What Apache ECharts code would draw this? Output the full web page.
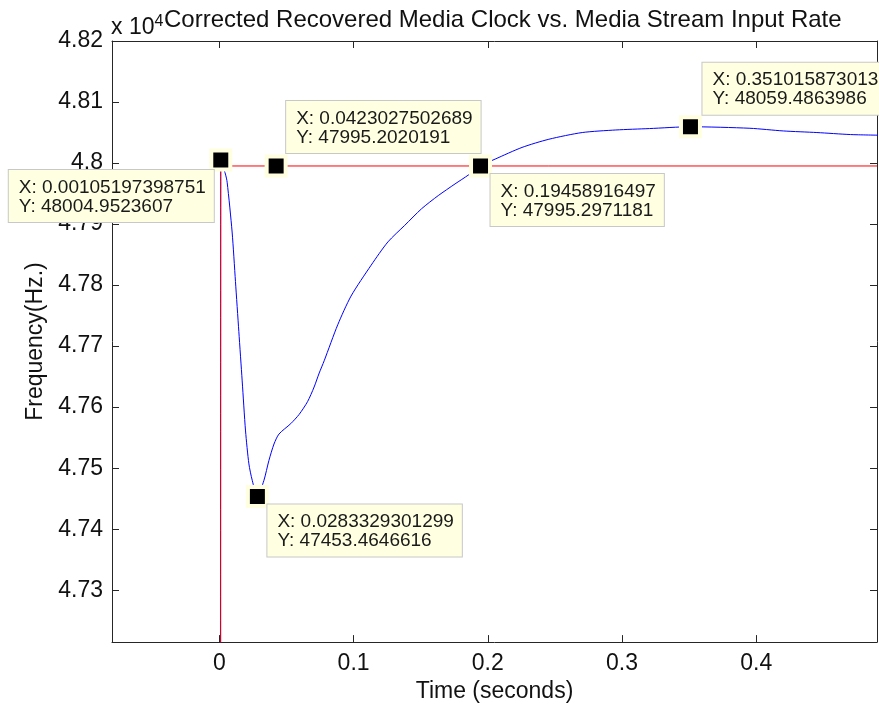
<!DOCTYPE html>
<html>
<head>
<meta charset="utf-8">
<script src="https://cdn.jsdelivr.net/npm/echarts@6/dist/echarts.min.js"></script>
<style>
html,body{margin:0;padding:0;background:#fff;}
#chart{width:879px;height:708px;}
</style>
</head>
<body>
<div id="chart"></div>
<script>
// ---- data ----
const titleText = 'Corrected Recovered Media Clock vs. Media Stream Input Rate';
const xAxisName = 'Time (seconds)';
const yAxisName = 'Frequency(Hz.)';
const xTickValues = [0, 0.1, 0.2, 0.3, 0.4];
const xTickLabels = ['0', '0.1', '0.2', '0.3', '0.4'];
const yTickValues = [47300, 47400, 47500, 47600, 47700, 47800, 47900, 48000, 48100, 48200];
const yTickLabels = ['4.73', '4.74', '4.75', '4.76', '4.77', '4.78', '4.79', '4.8', '4.81', '4.82'];

// Recovered media clock (blue)
const clockTime = [0, 0.00105197398751, 0.0045, 0.0058, 0.0095, 0.012, 0.0145, 0.017, 0.0195, 0.022, 0.0245,
  0.0283329301299, 0.0332, 0.0369, 0.0407, 0.0444, 0.0532, 0.0594, 0.0657, 0.0706, 0.0744, 0.0781,
  0.0882, 0.0981, 0.1131, 0.1256, 0.1381, 0.1506, 0.1631, 0.1756, 0.1856, 0.19458916497,
  0.2055, 0.2255, 0.2455, 0.2704, 0.2954, 0.3204, 0.351015873013, 0.3953, 0.4202, 0.4452, 0.4702, 0.4927];
const clockFreq = [0, 48004.9523607, 47982, 47968.6, 47887, 47805.7, 47724, 47643, 47561, 47507, 47480,
  47453.4646616, 47480, 47512.5, 47539.6, 47555.9, 47573, 47588, 47609, 47633, 47656, 47676,
  47735, 47782, 47832.7, 47870.8, 47897.9, 47925, 47946.7, 47965.8, 47980.5, 47995.2971181,
  48006.5, 48025.6, 48039, 48050, 48054.2, 48056.5, 48059.4863986, 48057, 48052.6, 48050, 48046.7, 48045.6];

// Media stream input rate (red step)
const inputTime = [0.001, 0.001, 0.49];
const inputFreq = [0, 47995.2020191, 47995.2020191];

// Data tips
const tipX = ['0.00105197398751', '0.0423027502689', '0.19458916497', '0.0283329301299', '0.351015873013'];
const tipY = ['48004.9523607', '47995.2020191', '47995.2971181', '47453.4646616', '48059.4863986'];

// ---- styles ----
const tipOffsets = [[-212, 10], [10, -65], [10, 8], [10, 8], [12, -64]];
const FONT = '"Liberation Sans", Arial, sans-serif';
const axisColor = '#262626';

const clockData = clockTime.map((t, i) => [t, clockFreq[i]]);
const inputData = inputTime.map((t, i) => [t, inputFreq[i]]);
const tipData = tipX.map((x, i) => ({
  value: [parseFloat(x), parseFloat(tipY[i])],
  label: { offset: tipOffsets[i] }
}));

const chart = echarts.init(document.getElementById('chart'), null, { renderer: 'canvas' });

const xBase = {
  type: 'value', min: -0.08, max: 0.49,
  axisLine: { show: true, onZero: false, lineStyle: { color: axisColor, width: 1 } },
  axisTick: { show: true, inside: true, length: 7, customValues: xTickValues, lineStyle: { color: axisColor } },
  splitLine: { show: false }
};
const yBase = {
  type: 'value', min: 47215, max: 48200,
  axisLine: { show: true, onZero: false, lineStyle: { color: axisColor, width: 1 } },
  axisTick: { show: true, inside: true, length: 7, customValues: yTickValues, lineStyle: { color: axisColor } },
  splitLine: { show: false }
};

chart.setOption({
  animation: false,
  backgroundColor: '#ffffff',
  title: [
    {
      text: 'x 10{s|4}', left: 106, top: 9,
      textStyle: { fontFamily: FONT, fontSize: 23, fontWeight: 'normal', color: '#111',
        rich: { s: { fontFamily: FONT, fontSize: 16, color: '#111', verticalAlign: 'top', padding: [0, 0, 12, 0] } } }
    },
    {
      text: titleText, left: 159, top: 3,
      textStyle: { fontFamily: FONT, fontSize: 24, fontWeight: 'normal', color: '#111' }
    }
  ],
  grid: { left: 112, right: 2, top: 41, bottom: 62, containLabel: false },
  xAxis: [
    Object.assign({}, xBase, {
      position: 'bottom',
      name: xAxisName, nameLocation: 'middle', nameGap: 35,
      nameTextStyle: { fontFamily: FONT, fontSize: 23, color: '#111' },
      axisLabel: { show: true, customValues: xTickValues, margin: 10, fontFamily: FONT, fontSize: 23, color: '#111',
        formatter: v => xTickLabels[xTickValues.indexOf(v)] }
    }),
    Object.assign({}, xBase, { position: 'top', axisLabel: { show: false } })
  ],
  yAxis: [
    Object.assign({}, yBase, {
      position: 'left',
      name: yAxisName, nameLocation: 'middle', nameGap: 65, nameRotate: 90,
      nameTextStyle: { fontFamily: FONT, fontSize: 23, color: '#111' },
      axisLabel: { show: true, customValues: yTickValues, margin: 9, fontFamily: FONT, fontSize: 23, color: '#111',
        formatter: v => yTickLabels[yTickValues.indexOf(v)] }
    }),
    Object.assign({}, yBase, { position: 'right', axisLabel: { show: false } })
  ],
  series: [
    {
      type: 'line', name: 'clock', data: clockData, xAxisIndex: 0, yAxisIndex: 0,
      showSymbol: false, symbol: 'none', smooth: 0.25,
      lineStyle: { color: '#0000ff', width: 1 }, z: 2
    },
    {
      type: 'line', name: 'input', data: inputData, xAxisIndex: 0, yAxisIndex: 0,
      showSymbol: false, symbol: 'none',
      lineStyle: { color: '#ff0000', width: 1 }, z: 3
    },
    {
      type: 'scatter', name: 'tips', data: tipData, xAxisIndex: 0, yAxisIndex: 0,
      symbol: 'rect', symbolSize: 19,
      itemStyle: { color: '#000000', borderColor: '#ffffe0', borderWidth: 4, opacity: 1 },
      z: 5,
      label: {
        show: true, position: 'inside', align: 'left', verticalAlign: 'top',
        fontFamily: FONT, fontSize: 19, lineHeight: 19, color: '#1a1a1a',
        backgroundColor: '#ffffe1', borderColor: '#c8c8c8', borderWidth: 1,
        padding: [8, 8, 6, 10],
        formatter: p => 'X: ' + tipX[p.dataIndex] + '\nY: ' + tipY[p.dataIndex]
      },
      emphasis: { disabled: true }
    }
  ]
});
</script>
</body>
</html>
